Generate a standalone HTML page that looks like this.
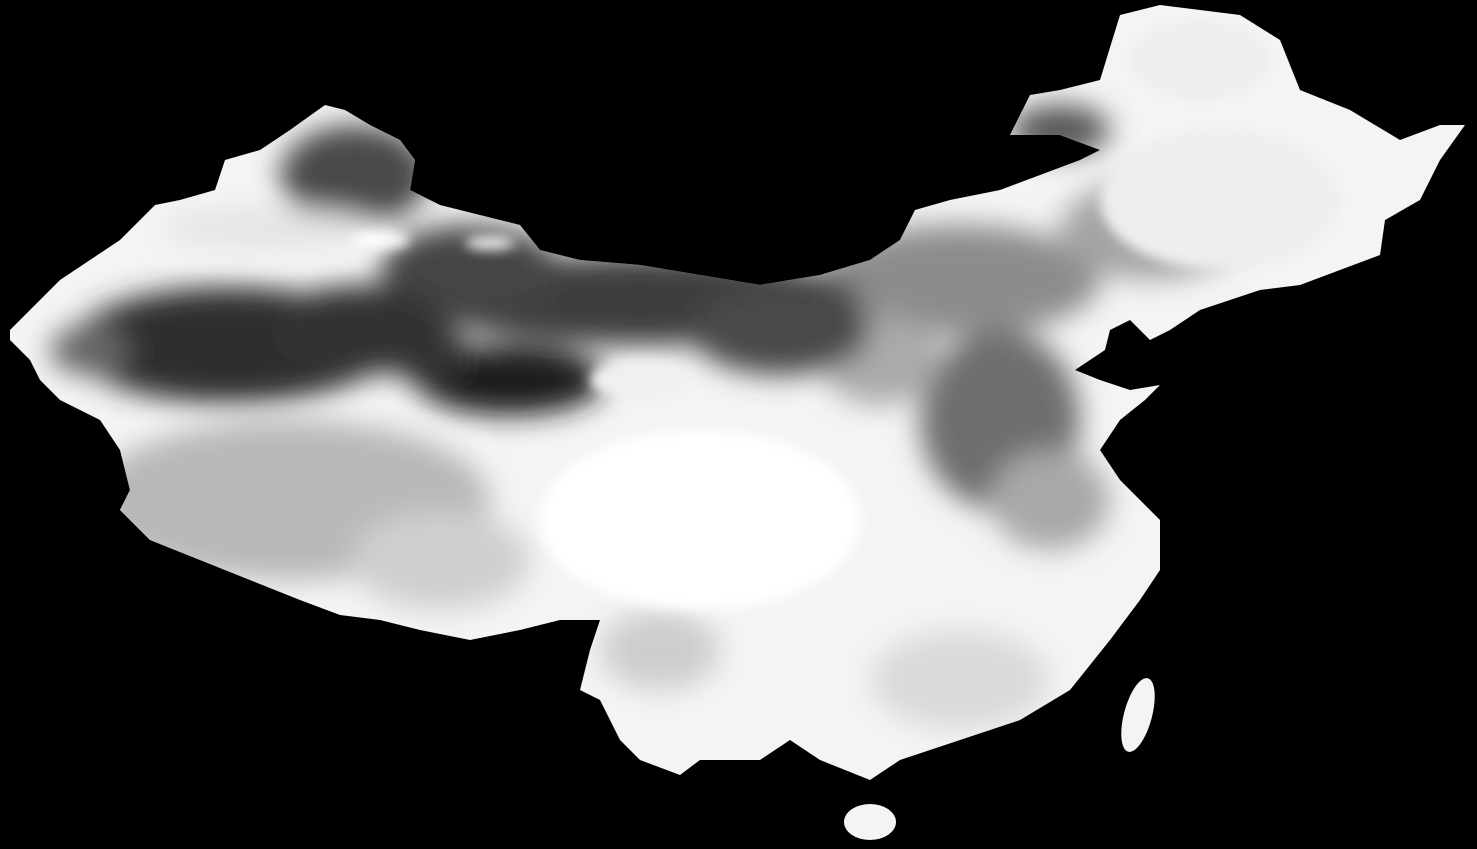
<!DOCTYPE html>
<html><head><meta charset="utf-8"><style>
html,body{margin:0;padding:0;background:#000;width:1477px;height:849px;overflow:hidden}
svg{display:block}
</style></head><body>
<svg width="1477" height="849" viewBox="0 0 1477 849">
<defs>
<clipPath id="cn">
<polygon points="10,330 40,300 60,280 90,260 120,240 155,205 180,200 215,190 225,160 260,150 290,130 325,105 345,110 370,125 400,140 415,160 410,190 440,205 480,215 520,225 540,250 580,260 640,265 700,275 760,285 820,275 870,260 900,240 915,210 950,200 1000,190 1040,175 1080,160 1100,150 1060,135 1010,135 1030,95 1060,90 1100,80 1120,15 1160,5 1240,15 1280,40 1300,90 1350,110 1400,140 1440,125 1465,125 1440,160 1420,200 1385,220 1380,255 1340,270 1300,285 1260,290 1200,310 1170,330 1150,340 1130,320 1110,330 1105,350 1075,370 1100,380 1130,390 1160,385 1145,400 1120,420 1100,450 1120,480 1140,500 1160,520 1160,570 1140,600 1110,640 1070,690 1020,720 960,740 900,760 870,780 820,760 790,740 760,760 700,760 680,775 640,760 620,740 600,700 580,690 590,650 600,620 560,620 520,630 470,640 420,630 380,620 340,615 300,600 250,580 200,560 150,540 120,510 130,490 120,450 100,420 60,400 40,380 30,360 10,340"/>
<ellipse cx="870" cy="822" rx="26" ry="18"/>
<ellipse cx="1138" cy="715" rx="14" ry="38" transform="rotate(15 1138 715)"/>
</clipPath>
<filter id="bl" x="-20%" y="-20%" width="140%" height="140%"><feGaussianBlur stdDeviation="14"/></filter>
<filter id="bl2" x="-20%" y="-20%" width="140%" height="140%"><feGaussianBlur stdDeviation="6"/></filter>
</defs>
<g clip-path="url(#cn)">
<rect x="0" y="0" width="1477" height="849" fill="#f4f4f4"/>
<g filter="url(#bl)">
<ellipse cx="290" cy="500" rx="200" ry="80" fill="#b8b8b8"/>
<ellipse cx="440" cy="560" rx="90" ry="50" fill="#cfcfcf"/>
<ellipse cx="960" cy="280" rx="140" ry="55" fill="#8c8c8c"/>
<ellipse cx="1000" cy="420" rx="80" ry="90" fill="#6e6e6e"/>
<ellipse cx="1050" cy="500" rx="60" ry="50" fill="#a8a8a8"/>
<ellipse cx="1150" cy="230" rx="90" ry="50" fill="#a4a4a4"/>
<ellipse cx="1060" cy="130" rx="50" ry="25" fill="#555"/>
<ellipse cx="880" cy="360" rx="60" ry="45" fill="#aaa"/>
<ellipse cx="660" cy="650" rx="60" ry="40" fill="#cdcdcd"/>
<ellipse cx="960" cy="680" rx="90" ry="50" fill="#dadada"/>
<ellipse cx="640" cy="300" rx="220" ry="45" fill="#3c3c3c"/>
<ellipse cx="470" cy="270" rx="90" ry="45" fill="#444"/>
<ellipse cx="780" cy="330" rx="90" ry="45" fill="#4a4a4a"/>
<ellipse cx="355" cy="175" rx="75" ry="50" fill="#4a4a4a"/>
<ellipse cx="270" cy="228" rx="110" ry="20" fill="#e4e4e4"/>
<ellipse cx="230" cy="345" rx="160" ry="58" fill="#2e2e2e"/>
<ellipse cx="360" cy="330" rx="90" ry="45" fill="#333"/>
<ellipse cx="510" cy="380" rx="95" ry="35" fill="#1e1e1e"/>
<ellipse cx="430" cy="355" rx="40" ry="30" fill="#333"/>
<ellipse cx="90" cy="350" rx="40" ry="25" fill="#666"/>
</g>
<g filter="url(#bl2)">
<ellipse cx="380" cy="240" rx="30" ry="8" fill="#fff"/>
<ellipse cx="490" cy="243" rx="25" ry="7" fill="#eee"/>
<ellipse cx="640" cy="380" rx="50" ry="20" fill="#f0f0f0"/>
<ellipse cx="700" cy="520" rx="160" ry="90" fill="#fff"/>
<ellipse cx="1220" cy="200" rx="120" ry="70" fill="#eee"/>
<ellipse cx="1200" cy="60" rx="70" ry="40" fill="#eee"/>
</g>
</g>
</svg>
</body></html>
